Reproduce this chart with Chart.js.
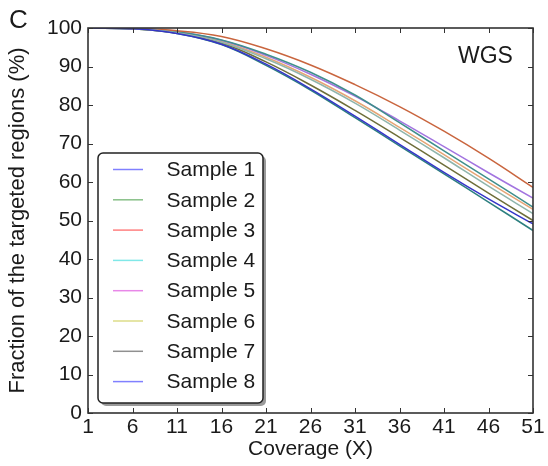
<!DOCTYPE html>
<html>
<head>
<meta charset="utf-8">
<script src="https://cdn.jsdelivr.net/npm/chart.js@4.4.1/dist/chart.umd.min.js"></script>
<style>
  html, body { margin: 0; padding: 0; background: #fff; }
</style>
</head>
<body>
<canvas id="chart" width="548" height="466"></canvas>
<script>
const coverage = [1, 6, 11, 16, 21, 26, 31, 36, 41, 46, 51];
const sampleNames = ["Sample 1", "Sample 2", "Sample 3", "Sample 4", "Sample 5", "Sample 6", "Sample 7", "Sample 8"];

const sample1 = [100, 99.8, 98.6, 95.8, 90.6, 84.2, 77.1, 69.8, 62.5, 55.6, 49.1];
const sample2 = [100, 99.9, 98.8, 96.3, 92.0, 86.7, 80.5, 73.5, 66.3, 58.9, 51.8];
const sample3 = [100, 99.9, 99.3, 97.8, 94.6, 90.4, 85.3, 79.6, 73.2, 66.2, 58.6];
const sample4 = [100, 99.9, 99.0, 96.9, 93.2, 88.5, 82.6, 75.4, 68.1, 60.8, 53.5];
const sample5 = [100, 99.9, 99.0, 96.8, 92.9, 88.0, 82.3, 75.9, 69.2, 62.4, 55.8];
const sample6 = [100, 99.9, 98.9, 96.5, 92.4, 87.2, 81.1, 74.2, 67.1, 59.9, 52.9];
const sample7 = [100, 99.8, 98.7, 96.1, 91.2, 85.2, 78.6, 71.6, 64.4, 57.1, 50.0];
const sample8 = [100, 99.8, 98.6, 95.7, 90.3, 83.9, 76.7, 69.4, 62.1, 54.8, 47.4];

const xTicks = [1, 6, 11, 16, 21, 26, 31, 36, 41, 46, 51];
const yTicks = [0, 10, 20, 30, 40, 50, 60, 70, 80, 90, 100];

const lineColors = ["#3535c8", "#8fb5ac", "#c9653e", "#3f8f8c", "#a274e0", "#e6a575", "#6e6e3a", "#2c7f7f"];
const legendColors = ["#8080ff", "#88c088", "#ff8080", "#80e8e8", "#e888e8", "#dcdc88", "#909090", "#8080ff"];

const FONT = "'Liberation Sans', Arial, sans-serif";
const INK = "#1a1a1a";

const allSamples = [sample1, sample2, sample3, sample4, sample5, sample6, sample7, sample8];

const datasets = allSamples.map((vals, i) => ({
    label: sampleNames[i],
    data: vals.map((v, j) => ({ x: coverage[j], y: v })),
    borderColor: lineColors[i],
    borderWidth: 1.5,
    pointRadius: 0,
    fill: false,
    tension: 0.4
}));

// frame with inward ticks on all four sides
const framePlugin = {
    id: "frame",
    afterDatasetsDraw(chart) {
        const { ctx, chartArea: a, scales } = chart;
        ctx.save();
        ctx.strokeStyle = "#333";
        ctx.lineWidth = 1;
        xTicks.forEach(t => {
            const px = Math.round(scales.x.getPixelForValue(t)) + 0.5;
            ctx.beginPath();
            ctx.moveTo(px, a.bottom); ctx.lineTo(px, a.bottom - 5);
            ctx.moveTo(px, a.top); ctx.lineTo(px, a.top + 5);
            ctx.stroke();
        });
        yTicks.forEach(t => {
            const py = Math.round(scales.y.getPixelForValue(t)) + 0.5;
            ctx.beginPath();
            ctx.moveTo(a.left, py); ctx.lineTo(a.left + 5, py);
            ctx.moveTo(a.right, py); ctx.lineTo(a.right - 5, py);
            ctx.stroke();
        });
        ctx.lineWidth = 1.6;
        ctx.strokeRect(a.left, a.top, a.right - a.left, a.bottom - a.top);
        ctx.restore();
    }
};

// panel letter, WGS tag and the boxed legend
const notesPlugin = {
    id: "notes",
    afterDraw(chart) {
        const ctx = chart.ctx;
        ctx.save();
        ctx.fillStyle = INK;
        ctx.textBaseline = "alphabetic";
        ctx.textAlign = "left";
        ctx.font = "26px " + FONT;
        ctx.fillText("C", 9, 28);
        ctx.font = "23px " + FONT;
        ctx.fillText("WGS", 458, 63);

        const x = 98, y = 153, w = 165, h = 250, r = 5;
        ctx.fillStyle = "#9a9a9a";
        ctx.beginPath(); ctx.roundRect(x + 3, y + 3, w, h, r); ctx.fill();
        ctx.fillStyle = "#fff";
        ctx.beginPath(); ctx.roundRect(x, y, w, h, r); ctx.fill();
        ctx.strokeStyle = "#222";
        ctx.lineWidth = 1.5;
        ctx.stroke();

        ctx.font = "21px " + FONT;
        ctx.textBaseline = "middle";
        chart.data.datasets.forEach((ds, i) => {
            const cy = 169.5 + i * 30.3;
            ctx.strokeStyle = legendColors[i];
            ctx.lineWidth = 1.5;
            ctx.beginPath();
            ctx.moveTo(113, cy); ctx.lineTo(143, cy);
            ctx.stroke();
            ctx.fillStyle = INK;
            ctx.fillText(ds.label, 166.5, cy + 1);
        });
        ctx.restore();
    }
};

new Chart(document.getElementById("chart"), {
    type: "line",
    data: { datasets },
    options: {
        responsive: false,
        animation: false,
        layout: { padding: { left: 0, right: 15, top: 28, bottom: 4 } },
        plugins: { legend: { display: false }, tooltip: { enabled: false } },
        scales: {
            x: {
                type: "linear",
                min: 1,
                max: 51,
                afterBuildTicks: s => { s.ticks = xTicks.map(v => ({ value: v })); },
                afterFit: s => { s.height = 49; },
                grid: { display: false, drawTicks: false, tickLength: 0 },
                border: { display: false },
                ticks: { color: INK, font: { family: FONT, size: 21 }, padding: 2, maxRotation: 0, autoSkip: false },
                title: { display: true, text: "Coverage (X)", color: INK, font: { family: FONT, size: 21 }, padding: 0 }
            },
            y: {
                min: 0,
                max: 100,
                afterBuildTicks: s => { s.ticks = yTicks.map(v => ({ value: v })); },
                afterFit: s => { s.width = 88; },
                grid: { display: false, drawTicks: false, tickLength: 0 },
                border: { display: false },
                ticks: { color: INK, font: { family: FONT, size: 21 }, padding: 6 },
                title: { display: true, text: "Fraction of the targeted regions (%)", color: INK, font: { family: FONT, size: 22 }, padding: { top: 5, bottom: 0 } }
            }
        }
    },
    plugins: [framePlugin, notesPlugin]
});
</script>
</body>
</html>
